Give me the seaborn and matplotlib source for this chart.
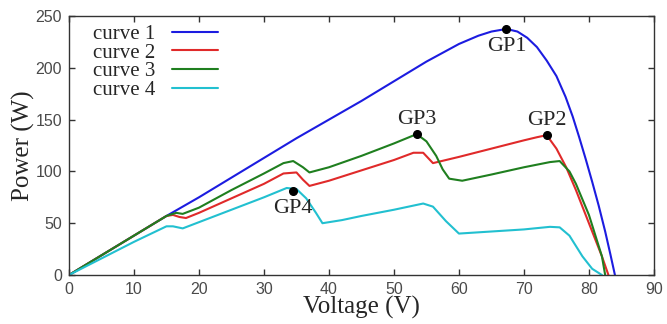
import numpy as np
import pandas as pd
import matplotlib
matplotlib.use("Agg")
import matplotlib.pyplot as plt
import seaborn as sns

# -------------------- data --------------------
v1 = [0, 5, 10, 15, 20, 25, 30, 35, 40, 45, 50, 55, 60, 63, 65, 67.3, 69, 70.5, 72,
      73.5, 75, 76.4, 77.5, 78.5, 79.5, 80.5, 81.5, 82.5, 83.3, 84]
p1 = [0, 19, 38, 57, 75, 94, 113, 132, 150, 168, 187, 206, 223, 231, 235, 237.5, 235,
      229, 220, 207, 192, 172, 153, 133, 112, 90, 67, 42, 20, 0]

v2 = [0, 5, 10, 15, 16, 17, 18, 20, 25, 30, 33, 35, 36, 37, 40, 45, 50, 53, 54.5, 56,
      60, 65, 70, 72, 73.5, 75, 76.5, 78, 80, 82, 83]
p2 = [0, 19, 38, 57, 58, 56, 55, 60, 74, 88, 98, 99, 92, 86, 91, 101, 111, 118, 118,
      108, 114, 122, 130, 133, 135, 122, 104, 82, 50, 18, 0]

v3 = [0, 5, 10, 15, 16.5, 17.5, 20, 25, 30, 33, 34.5, 36, 37, 40, 45, 50, 53.5, 55,
      56.5, 57.5, 58.5, 60.5, 65, 70, 74, 75.5, 77, 78, 80, 82, 82.5]
p3 = [0, 19, 38, 57, 60, 59, 65, 82, 98, 108, 110, 104, 99, 104, 115, 127, 136, 129,
      115, 102, 93, 91, 97, 104, 109, 110, 100, 88, 58, 18, 0]

v4 = [0, 5, 10, 15, 16, 17.5, 20, 25, 30, 33.5, 35, 36.5, 38, 39, 42, 45, 50, 54.5,
      56, 58, 60, 65, 70, 74, 75.5, 77, 79, 80.5, 82]
p4 = [0, 16, 32, 47, 47, 45, 51, 63, 75, 84, 83, 74, 60, 50, 53, 57, 63, 69, 66, 52,
      40, 42, 44, 46.5, 46, 38, 18, 6, 0]

curve_names = ["curve 1", "curve 2", "curve 3", "curve 4"]
colors = ["#1c1ce0", "#e02a2a", "#1f7f1f", "#22c0d0"]

gp_names = ["GP1", "GP2", "GP3", "GP4"]
gp_v = [67.3, 73.5, 53.5, 34.5]
gp_p = [237.5, 135, 136, 81]
gp_below = [True, False, False, True]

x_ticks = [0, 10, 20, 30, 40, 50, 60, 70, 80, 90]
y_ticks = [0, 50, 100, 150, 200, 250]
# ---------------------------------------------------------------------

frames = []
for name, v, p in zip(curve_names, [v1, v2, v3, v4], [p1, p2, p3, p4]):
    frames.append(pd.DataFrame({"Voltage": v, "Power": p, "curve": name}))
df = pd.concat(frames, ignore_index=True)

sns.set_style("ticks")
plt.rcParams["font.family"] = ["Liberation Serif", "DejaVu Serif"]

fig = plt.figure(figsize=(6.67, 3.24), dpi=100)
ax = fig.add_axes([0.1034, 0.1512, 0.877, 0.7994])

sns.lineplot(data=df, x="Voltage", y="Power", hue="curve",
             palette=dict(zip(curve_names, colors)), sort=False,
             estimator=None, linewidth=1.5, ax=ax)

# global peaks
ax.plot(gp_v, gp_p, "o", color="black", markersize=5.5, zorder=5)
for name, v, p, below in zip(gp_names, gp_v, gp_p, gp_below):
    ax.annotate(name, (v, p), xytext=(0, -6 if below else 4),
                textcoords="offset points", ha="center",
                va="top" if below else "bottom", fontsize=16)

ax.set_xlim(0, 90)
ax.set_ylim(0, 250)
ax.set_xticks(x_ticks)
ax.set_yticks(y_ticks)
ax.tick_params(direction="in", length=4, width=1, top=True, right=True,
               colors="#333333", labelcolor="#4a4a4a", labelsize=11.5, pad=5)
for lbl in ax.get_xticklabels() + ax.get_yticklabels():
    lbl.set_family(["Liberation Sans Narrow", "Liberation Sans"])
for s in ax.spines.values():
    s.set_visible(True)
    s.set_color("#333333")
    s.set_linewidth(1)

ax.set_xlabel("Voltage (V)", fontsize=18, labelpad=-1)
ax.set_ylabel("Power (W)", fontsize=18, labelpad=0)

handles, labels = ax.get_legend_handles_labels()
ax.legend(handles, labels, loc="upper left", bbox_to_anchor=(0.02, 1.015),
          frameon=False, markerfirst=False, fontsize=15, handlelength=2.2,
          handletextpad=0.8, labelspacing=-0.05, borderaxespad=0.2)

fig.savefig("out.png", dpi=100)
